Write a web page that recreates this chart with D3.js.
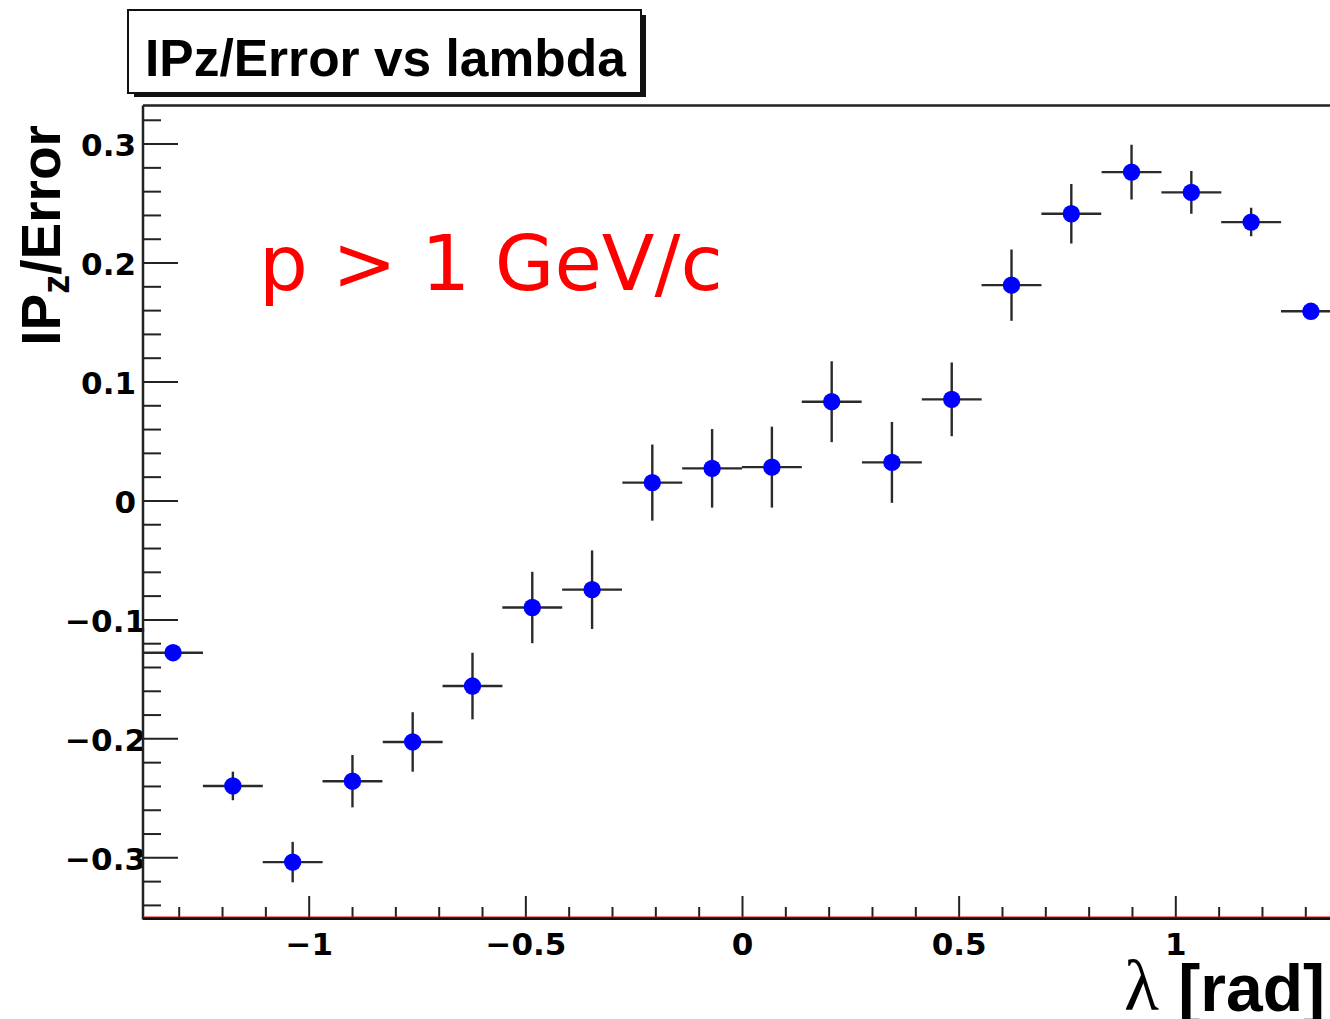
<!DOCTYPE html>
<html>
<head>
<meta charset="utf-8">
<script src="https://cdnjs.cloudflare.com/ajax/libs/d3/7.8.5/d3.min.js"></script>
<style>
  body { margin: 0; background: #fff; }
  svg { display: block; }
</style>
</head>
<body>
<script>
// bin centres of lambda [rad]
var lambda = [-1.313, -1.175, -1.037, -0.899, -0.760, -0.622, -0.484, -0.346, -0.207, -0.069,
              0.069, 0.207, 0.346, 0.484, 0.622, 0.760, 0.899, 1.037, 1.175, 1.313];
// mean IPz/Error in each bin
var ipzErr = [-0.128, -0.240, -0.304, -0.236, -0.203, -0.156, -0.090, -0.075, 0.015, 0.027,
              0.028, 0.083, 0.032, 0.085, 0.181, 0.241, 0.276, 0.259, 0.234, 0.159];
// error on the mean
var ipzUnc = [0.006, 0.012, 0.017, 0.022, 0.025, 0.028, 0.030, 0.033, 0.032, 0.033,
              0.034, 0.034, 0.034, 0.031, 0.030, 0.025, 0.023, 0.018, 0.012, 0.006];
var binHalf = 0.0691;

var xTicks = [-1, -0.5, 0, 0.5, 1];
var yTicks = [-0.3, -0.2, -0.1, 0, 0.1, 0.2, 0.3];
var xDomain = [-1.3824, 1.3824];
var yDomain = [-0.351, 0.332];

var W = 1330, H = 1019;
// frame edges (note: "top" is reserved on window)
var fLeft = 143, fRight = 1341, fTop = 105.5, fBottom = 918;

var svg = d3.select('body').append('svg')
    .attr('width', W).attr('height', H);

var x = d3.scaleLinear().domain(xDomain).range([fLeft, fRight]);
var y = d3.scaleLinear().domain(yDomain).range([fBottom, fTop]);

var fmt = function (d) { return d === 0 ? '0' : d3.format('')(d); };

// title box with shadow
svg.append('rect').attr('x', 134).attr('y', 15).attr('width', 512).attr('height', 82).attr('fill', '#111');
svg.append('rect').attr('x', 128).attr('y', 10).attr('width', 513).attr('height', 83)
    .attr('fill', '#fff').attr('stroke', '#111').attr('stroke-width', 2);
svg.append('text').attr('x', 145).attr('y', 76)
    .style('font-family', 'Liberation Sans, Arial, sans-serif').style('font-weight', 'bold')
    .style('font-size', '51.5px').text('IPz/Error vs lambda');

// minor ticks
var yMinor = d3.range(-0.34, 0.33, 0.02).map(function (v) { return +v.toFixed(2); })
    .filter(function (v) { return Math.abs(v * 10 - Math.round(v * 10)) > 1e-6; });
var xMinor = d3.range(-1.3, 1.35, 0.1).map(function (v) { return +v.toFixed(1); })
    .filter(function (v) { return Math.abs(v * 2 - Math.round(v * 2)) > 1e-6; });

var gyMinor = svg.append('g').attr('transform', 'translate(' + fLeft + ',0)')
    .call(d3.axisLeft(y).tickValues(yMinor).tickSize(-18).tickFormat(''));
var gy = svg.append('g').attr('transform', 'translate(' + fLeft + ',0)')
    .call(d3.axisLeft(y).tickValues(yTicks).tickSize(-35).tickPadding(7).tickFormat(fmt));
var gxMinor = svg.append('g').attr('transform', 'translate(0,' + fBottom + ')')
    .call(d3.axisBottom(x).tickValues(xMinor).tickSize(-11).tickFormat(''));
var gx = svg.append('g').attr('transform', 'translate(0,' + fBottom + ')')
    .call(d3.axisBottom(x).tickValues(xTicks).tickSize(-22).tickFormat(fmt));

[gyMinor, gy, gxMinor, gx].forEach(function (g) {
    g.select('.domain').remove();
    g.selectAll('line').attr('stroke', '#222').attr('stroke-width', 2);
    g.selectAll('text')
        .style('font-family', 'DejaVu Sans, sans-serif').style('font-weight', 'bold')
        .style('font-size', '31px').attr('fill', '#000');
});
gy.selectAll('text').attr('dy', null).attr('y', 12)
    .attr('x', function (d) { return d < 0 ? 3 : -7; });
gx.selectAll('text').attr('dy', null).attr('y', 37);

// frame
svg.append('line').attr('x1', fLeft).attr('x2', fRight).attr('y1', fTop).attr('y2', fTop)
    .attr('stroke', '#222').attr('stroke-width', 2.5);
svg.append('line').attr('x1', fLeft).attr('x2', fLeft).attr('y1', fTop).attr('y2', fBottom + 1.5)
    .attr('stroke', '#222').attr('stroke-width', 2.5);
svg.append('line').attr('x1', fLeft).attr('x2', fRight).attr('y1', fBottom + 0.5).attr('y2', fBottom + 0.5)
    .attr('stroke', '#111').attr('stroke-width', 3);
svg.append('line').attr('x1', fLeft).attr('x2', fRight).attr('y1', fBottom - 1).attr('y2', fBottom - 1)
    .attr('stroke', '#ff0000').attr('stroke-width', 1.2);

// data
svg.append('clipPath').attr('id', 'frame').append('rect')
    .attr('x', fLeft).attr('y', fTop).attr('width', fRight - fLeft).attr('height', fBottom - fTop);
var pts = d3.range(lambda.length).map(function (i) {
    return { l: lambda[i], v: ipzErr[i], e: ipzUnc[i] };
});
var plot = svg.append('g').attr('clip-path', 'url(#frame)');
var bars = plot.selectAll('g.pt').data(pts).enter().append('g').attr('class', 'pt');
bars.append('line')
    .attr('x1', function (d) { return x(d.l - binHalf); })
    .attr('x2', function (d) { return x(d.l + binHalf); })
    .attr('y1', function (d) { return y(d.v); })
    .attr('y2', function (d) { return y(d.v); })
    .attr('stroke', '#2a2a2a').attr('stroke-width', 2.4);
bars.append('line')
    .attr('x1', function (d) { return x(d.l); })
    .attr('x2', function (d) { return x(d.l); })
    .attr('y1', function (d) { return y(d.v - d.e); })
    .attr('y2', function (d) { return y(d.v + d.e); })
    .attr('stroke', '#2a2a2a').attr('stroke-width', 2.4);
bars.append('circle')
    .attr('cx', function (d) { return x(d.l); })
    .attr('cy', function (d) { return y(d.v); })
    .attr('r', 8.7).attr('fill', '#0000ff');

// red annotation
svg.append('text').attr('x', 259).attr('y', 290)
    .style('font-family', 'DejaVu Sans, Verdana, sans-serif')
    .style('font-size', '77px').attr('fill', '#ff0000').text('p > 1 GeV/c');

// y title
var yt = svg.append('text').attr('transform', 'translate(60,125) rotate(-90)')
    .attr('text-anchor', 'end')
    .style('font-family', 'Liberation Sans, Arial, sans-serif').style('font-weight', 'bold')
    .style('font-size', '55px');
yt.append('tspan').text('IP');
yt.append('tspan').attr('dy', 9).style('font-size', '38px').text('z');
yt.append('tspan').attr('dy', -9).text('/Error');

// x title
svg.append('text').attr('x', 1159).attr('y', 1010).attr('text-anchor', 'end')
    .style('font-family', 'Liberation Serif, Times New Roman, serif')
    .style('font-size', '72px').text('λ');
svg.append('text').attr('x', 1325).attr('y', 1011).attr('text-anchor', 'end')
    .style('font-family', 'Liberation Sans, Arial, sans-serif').style('font-weight', 'bold')
    .style('font-size', '66px').text('[rad]');
</script>
</body>
</html>
